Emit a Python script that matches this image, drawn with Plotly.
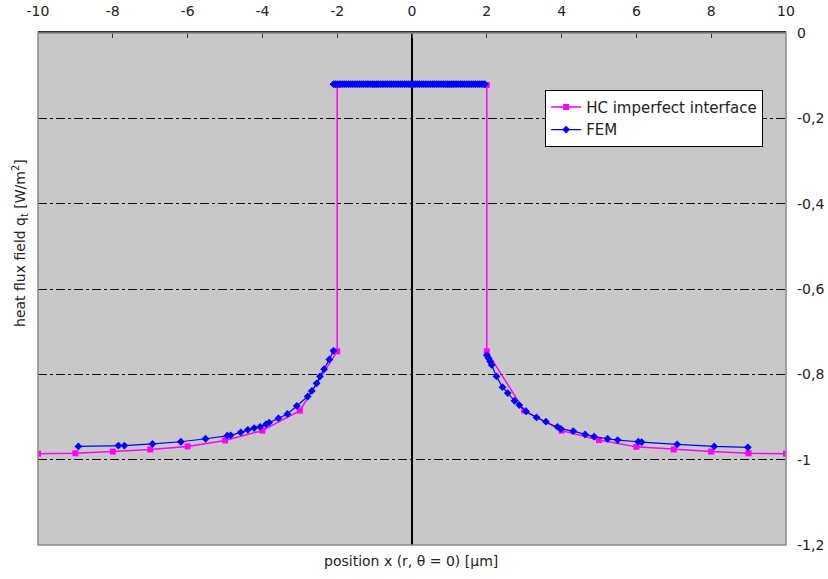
import plotly.graph_objects as go

# ---- data ----
hc_x = [-10, -9, -8, -7, -6, -5, -4, -3, -2, -2, -1, 0, 1, 2, 2, 3, 4, 5, 6, 7, 8, 9, 10]
hc_y = [-0.986, -0.985, -0.981, -0.976, -0.969, -0.955, -0.932, -0.885, -0.746,
        -0.122, -0.121, -0.121, -0.121, -0.122,
        -0.746, -0.885, -0.932, -0.954, -0.970, -0.976, -0.981, -0.985, -0.986]

fem_left_x = [-8.92, -7.85, -7.69, -6.94, -6.18, -5.52, -4.94, -4.85, -4.58, -4.39, -4.22, -4.06,
              -3.90, -3.82, -3.57, -3.33, -3.08, -2.79, -2.68, -2.55, -2.46, -2.35, -2.21, -2.10]
fem_left_y = [-0.969, -0.967, -0.967, -0.963, -0.958, -0.951, -0.944, -0.943, -0.936, -0.930, -0.926, -0.923,
              -0.917, -0.913, -0.903, -0.893, -0.874, -0.852, -0.839, -0.821, -0.805, -0.788, -0.765, -0.745]

fem_mid_x = [-2.10, -2.05, -2.00, -1.95, -1.90, -1.85, -1.80, -1.75, -1.70, -1.65, -1.60, -1.55,
             -1.50, -1.45, -1.40, -1.35, -1.30, -1.25, -1.20, -1.15, -1.10, -1.05, -1.00, -0.95,
             -0.90, -0.85, -0.80, -0.75, -0.70, -0.65, -0.60, -0.55, -0.50, -0.45, -0.40, -0.35,
             -0.30, -0.25, -0.20, -0.15, -0.10, -0.05, 0.00, 0.05, 0.10, 0.15, 0.20, 0.25,
             0.30, 0.35, 0.40, 0.45, 0.50, 0.55, 0.60, 0.65, 0.70, 0.75, 0.80, 0.85,
             0.90, 0.95, 1.00, 1.05, 1.10, 1.15, 1.20, 1.25, 1.30, 1.35, 1.40, 1.45,
             1.50, 1.55, 1.60, 1.65, 1.70, 1.75, 1.80, 1.85, 1.90, 1.95]
fem_mid_y = [-0.120] * len(fem_mid_x)

fem_right_x = [2.00, 2.04, 2.09, 2.13, 2.26, 2.42, 2.56, 2.74, 2.87, 3.05, 3.33, 3.58,
               3.89, 3.98, 4.31, 4.63, 4.87, 5.23, 5.50, 6.05, 6.14, 7.09, 8.08, 8.98]
fem_right_y = [-0.755, -0.762, -0.770, -0.778, -0.805, -0.830, -0.844, -0.862, -0.872, -0.887, -0.901, -0.911,
               -0.923, -0.928, -0.933, -0.941, -0.946, -0.951, -0.954, -0.958, -0.959, -0.964, -0.969, -0.971]

x_ticks = [-10, -8, -6, -4, -2, 0, 2, 4, 6, 8, 10]
y_ticks = [0, -0.2, -0.4, -0.6, -0.8, -1.0, -1.2]
y_ticktext = ["0", "-0,2", "-0,4", "-0,6", "-0,8", "-1", "-1,2"]

fem_x = fem_left_x + [None] + fem_mid_x + [None] + fem_right_x
fem_y = fem_left_y + [None] + fem_mid_y + [None] + fem_right_y

FONT = "DejaVu Sans, Liberation Sans, Arial, sans-serif"
TXT = "#222222"

fig = go.Figure()
fig.add_trace(go.Scatter(
    x=hc_x, y=hc_y, mode="lines+markers", name="HC imperfect interface",
    line=dict(color="#ff00ff", width=1.5),
    marker=dict(symbol="square", size=6, color="#ff00ff"),
))
fig.add_trace(go.Scatter(
    x=fem_x, y=fem_y, mode="lines+markers", name="FEM", connectgaps=False,
    line=dict(color="#0000ff", width=1.2),
    marker=dict(symbol="diamond", size=6, color="#0000ff"),
))

fig.update_layout(
    width=828, height=579,
    margin=dict(l=38, r=42, t=33, b=34, autoexpand=False),
    paper_bgcolor="white",
    plot_bgcolor="#c8c8c8",
    font=dict(family=FONT, color=TXT, size=14),
    showlegend=True,
    legend=dict(
        x=0.678, y=0.889, xanchor="left", yanchor="top",
        bgcolor="white", bordercolor="black", borderwidth=1,
        font=dict(size=15, family=FONT, color=TXT),
        tracegroupgap=0, itemwidth=30,
    ),
    xaxis=dict(
        range=[-10, 10], side="top", tickvals=x_ticks, ticktext=[str(v) for v in x_ticks],
        ticks="inside", ticklen=5, tickcolor="#333333",
        showline=True, linecolor="#333333", linewidth=1.5, mirror=False,
        showgrid=False, zeroline=True, zerolinecolor="black", zerolinewidth=1.5,
        tickfont=dict(size=14, family=FONT, color=TXT),
        ticklabelstandoff=10, automargin=False,
    ),
    yaxis=dict(
        range=[-1.2, 0], side="right", tickvals=y_ticks, ticktext=y_ticktext,
        ticks="", showline=False, zeroline=False,
        showgrid=True, gridcolor="#111111", gridwidth=1.2, griddash="dashdot",
        tickfont=dict(size=14, family=FONT, color=TXT),
        ticklabelstandoff=10, automargin=False,
    ),
    shapes=[dict(type="rect", xref="paper", yref="paper", x0=0, x1=1, y0=0, y1=1,
                 line=dict(color="#888888", width=1.5), fillcolor="rgba(0,0,0,0)", layer="above")],
    annotations=[
        dict(text="heat flux field q<sub>t</sub> [W/m<sup>2</sup>]", xref="paper", yref="paper",
             x=-0.024, y=0.59, textangle=-90, showarrow=False, xanchor="center", yanchor="middle",
             font=dict(size=14, family=FONT, color=TXT)),
        dict(text="position x (r, θ = 0) [µm]", xref="paper", yref="paper",
             x=0.499, y=-0.012, showarrow=False, xanchor="center", yanchor="top",
             font=dict(size=14, family=FONT, color=TXT)),
    ],
)

fig.write_html("out.html", config={"displayModeBar": False},
               post_script="document.body.style.margin='0';")
